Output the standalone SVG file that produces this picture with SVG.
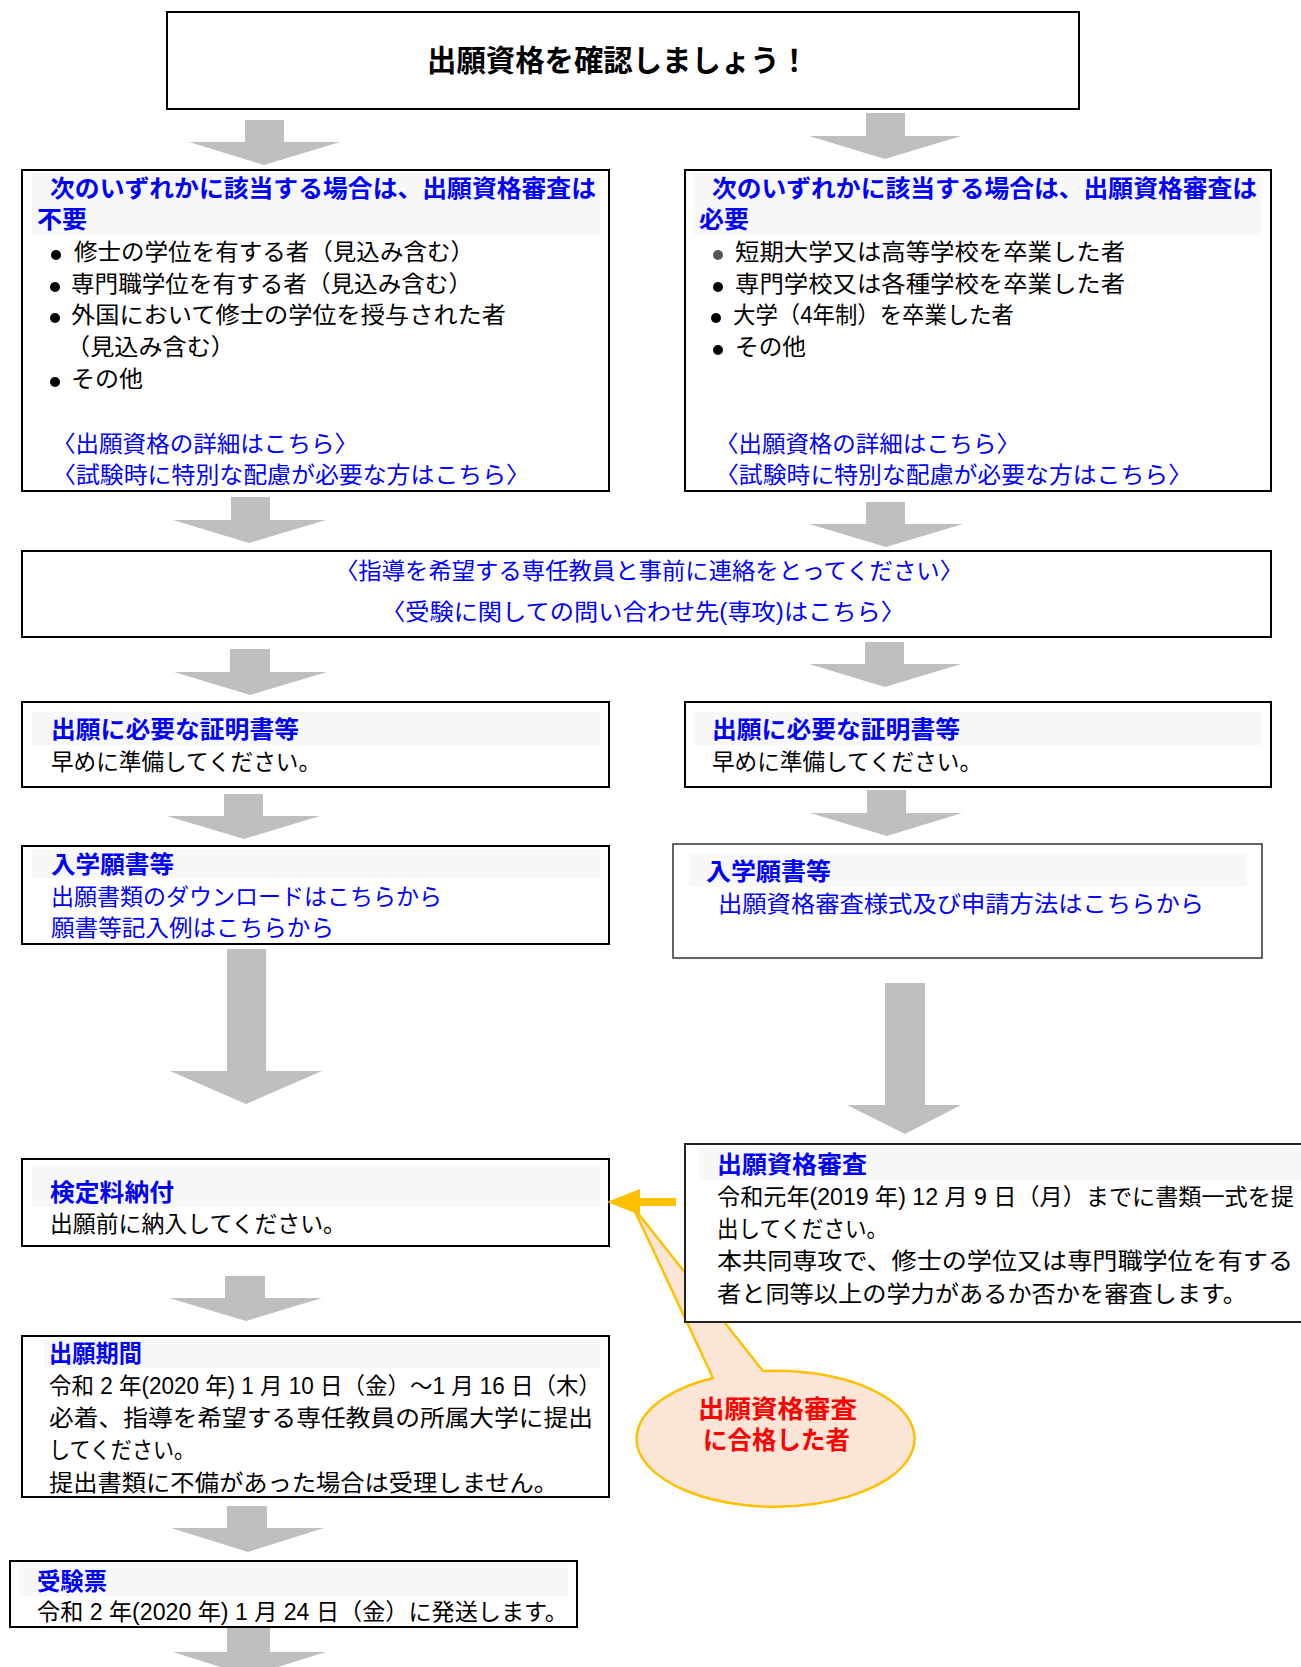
<svg xmlns="http://www.w3.org/2000/svg" width="1301" height="1667" viewBox="0 0 1301 1667">
<style>
.bg{fill:#fff}
.box{fill:#fff;stroke:#000;stroke-width:2}
.box2{fill:#fff;stroke:#333;stroke-width:1.5}
.band{fill:#F8F8F8}
.t{font-family:"Liberation Sans","Noto Sans CJK JP",sans-serif;font-size:23px;fill:#000}
.h{font-weight:bold;fill:#0000FF;font-size:24px}
.lk{fill:#0000FF}
.ar{fill:#BFBFBF}
.bul{fill:#000}
.red{font-weight:bold;fill:#FF0000;font-size:25px}
</style>
<rect class="bg" x="0" y="0" width="1301" height="1667"/>

<g id="connectors">
  <path class="ar" d="M245,120H284V142H340L264,165L189,142H245Z"/>
  <path class="ar" d="M866,113H905V136H961L885,159L809,136H866Z"/>
  <path class="ar" d="M231,497H270V520H326L249,543L173,520H231Z"/>
  <path class="ar" d="M866,502H905V524H963L886,547L809,524H866Z"/>
  <path class="ar" d="M230,649H270V672H327L250,695L174,672H230Z"/>
  <path class="ar" d="M865,642H904V664H961L885,687L809,664H865Z"/>
  <path class="ar" d="M224,794H263V816H320L244,839L167,816H224Z"/>
  <path class="ar" d="M867,790H906V813H962L887,836L810,813H867Z"/>
  <path class="ar" d="M227,949H266V1071H322L246,1104L170,1071H227Z"/>
  <path class="ar" d="M885,983H925V1105H961L905,1134L847,1105H885Z"/>
  <path class="ar" d="M225,1276H265V1298H322L246,1321L169,1298H225Z"/>
  <path class="ar" d="M227,1506H267V1528H324L248,1552L171,1528H227Z"/>
  <path class="ar" d="M227,1628H270V1652H326L249,1676L173,1652H227Z"/>
</g>

<g id="title">
  <rect class="box" x="167" y="12" width="912" height="97"/>
  <text class="t" x="427" y="71" style="font-size:30px;font-weight:bold" textLength="382" lengthAdjust="spacingAndGlyphs">出願資格を確認しましょう！</text>
</g>

<g id="no-review">
  <rect class="box" x="22" y="170" width="587" height="321"/>
  <rect class="band" x="32" y="173" width="568" height="62"/>
  <text class="t h" x="50" y="197" textLength="546" lengthAdjust="spacingAndGlyphs">次のいずれかに該当する場合は、出願資格審査は</text>
  <text class="t h" x="37" y="228" textLength="50" lengthAdjust="spacingAndGlyphs">不要</text>
  <circle class="bul" cx="56" cy="255" r="5"/>
  <text class="t" x="74" y="260" textLength="400" lengthAdjust="spacingAndGlyphs">修士の学位を有する者（見込み含む）</text>
  <circle class="bul" cx="55" cy="287" r="5"/>
  <text class="t" x="71" y="292" textLength="401" lengthAdjust="spacingAndGlyphs">専門職学位を有する者（見込み含む）</text>
  <circle class="bul" cx="55" cy="318" r="5"/>
  <text class="t" x="71" y="323" textLength="435" lengthAdjust="spacingAndGlyphs">外国において修士の学位を授与された者</text>
  <text class="t" x="66" y="355" textLength="169" lengthAdjust="spacingAndGlyphs">（見込み含む）</text>
  <circle class="bul" cx="55" cy="382" r="5"/>
  <text class="t" x="71" y="387" textLength="72" lengthAdjust="spacingAndGlyphs">その他</text>
  <text class="t lk" x="52" y="452" textLength="306" lengthAdjust="spacingAndGlyphs">〈出願資格の詳細はこちら〉</text>
  <text class="t lk" x="52" y="483" textLength="478" lengthAdjust="spacingAndGlyphs">〈試験時に特別な配慮が必要な方はこちら〉</text>
</g>

<g id="review-required">
  <rect class="box" x="685" y="170" width="586" height="321"/>
  <rect class="band" x="694" y="173" width="568" height="62"/>
  <text class="t h" x="712" y="197" textLength="545" lengthAdjust="spacingAndGlyphs">次のいずれかに該当する場合は、出願資格審査は</text>
  <text class="t h" x="699" y="228" textLength="50" lengthAdjust="spacingAndGlyphs">必要</text>
  <circle cx="718" cy="255" r="5" fill="#555"/>
  <text class="t" x="735" y="260" textLength="390" lengthAdjust="spacingAndGlyphs">短期大学又は高等学校を卒業した者</text>
  <circle class="bul" cx="718" cy="287" r="5"/>
  <text class="t" x="735" y="292" textLength="390" lengthAdjust="spacingAndGlyphs">専門学校又は各種学校を卒業した者</text>
  <circle class="bul" cx="716" cy="318" r="5"/>
  <text class="t" x="733" y="323" textLength="281" lengthAdjust="spacingAndGlyphs">大学（4年制）を卒業した者</text>
  <circle class="bul" cx="718" cy="350" r="5"/>
  <text class="t" x="735" y="355" textLength="71" lengthAdjust="spacingAndGlyphs">その他</text>
  <text class="t lk" x="715" y="452" textLength="305" lengthAdjust="spacingAndGlyphs">〈出願資格の詳細はこちら〉</text>
  <text class="t lk" x="715" y="483" textLength="477" lengthAdjust="spacingAndGlyphs">〈試験時に特別な配慮が必要な方はこちら〉</text>
</g>

<g id="contact">
  <rect class="box" x="22" y="551" width="1249" height="86"/>
  <text class="t lk" x="335" y="579" textLength="628" lengthAdjust="spacingAndGlyphs">〈指導を希望する専任教員と事前に連絡をとってください〉</text>
  <text class="t lk" x="381" y="620" textLength="524" lengthAdjust="spacingAndGlyphs">〈受験に関しての問い合わせ先(専攻)はこちら〉</text>
</g>

<g id="certificates-left">
  <rect class="box" x="22" y="702" width="587" height="85"/>
  <rect class="band" x="32" y="712" width="568" height="33"/>
  <text class="t h" x="51" y="738" textLength="248" lengthAdjust="spacingAndGlyphs">出願に必要な証明書等</text>
  <text class="t" x="51" y="770" textLength="270" lengthAdjust="spacingAndGlyphs">早めに準備してください。</text>
</g>

<g id="certificates-right">
  <rect class="box" x="685" y="702" width="586" height="85"/>
  <rect class="band" x="694" y="712" width="568" height="33"/>
  <text class="t h" x="712" y="738" textLength="248" lengthAdjust="spacingAndGlyphs">出願に必要な証明書等</text>
  <text class="t" x="712" y="770" textLength="270" lengthAdjust="spacingAndGlyphs">早めに準備してください。</text>
</g>

<g id="forms-left">
  <rect class="box" x="22" y="846" width="587" height="98"/>
  <rect class="band" x="32" y="849" width="568" height="29"/>
  <text class="t h" x="51" y="873" textLength="123" lengthAdjust="spacingAndGlyphs">入学願書等</text>
  <text class="t lk" x="51" y="905" textLength="391" lengthAdjust="spacingAndGlyphs">出願書類のダウンロードはこちらから</text>
  <text class="t lk" x="51" y="936" textLength="283" lengthAdjust="spacingAndGlyphs">願書等記入例はこちらから</text>
</g>

<g id="forms-right">
  <rect class="box2" x="673" y="844" width="589" height="114"/>
  <rect class="band" x="689" y="854" width="558" height="33"/>
  <text class="t h" x="706" y="880" textLength="125" lengthAdjust="spacingAndGlyphs">入学願書等</text>
  <text class="t lk" x="718" y="912" textLength="486" lengthAdjust="spacingAndGlyphs">出願資格審査様式及び申請方法はこちらから</text>
</g>

<g id="callout">
  <path d="M713,1378 L633,1207 L763,1371 A139,68 0 1,1 713,1378 Z" fill="#FBE5D6" stroke="#FFC000" stroke-width="2.5" stroke-linejoin="round"/>
  <text class="t red" x="698" y="1418" textLength="159" lengthAdjust="spacingAndGlyphs">出願資格審査</text>
  <text class="t red" x="703" y="1449" textLength="147" lengthAdjust="spacingAndGlyphs">に合格した者</text>
</g>

<g id="fee">
  <rect class="box" x="22" y="1159" width="587" height="87"/>
  <rect class="band" x="32" y="1166" width="568" height="41"/>
  <text class="t h" x="50" y="1201" textLength="124" lengthAdjust="spacingAndGlyphs">検定料納付</text>
  <text class="t" x="50" y="1232" textLength="296" lengthAdjust="spacingAndGlyphs">出願前に納入してください。</text>
</g>

<g id="qualification-review">
  <rect class="box" x="685" y="1144" width="630" height="178" style="stroke:#222"/>
  <rect class="band" x="699" y="1148" width="620" height="32"/>
  <text class="t h" x="717" y="1173" textLength="150" lengthAdjust="spacingAndGlyphs">出願資格審査</text>
  <text class="t" x="717" y="1205" textLength="577" lengthAdjust="spacingAndGlyphs">令和元年(2019 年) 12 月 9 日（月）までに書類一式を提</text>
  <text class="t" x="717" y="1237" textLength="171" lengthAdjust="spacingAndGlyphs">出してください。</text>
  <text class="t" x="717" y="1269" textLength="576" lengthAdjust="spacingAndGlyphs">本共同専攻で、修士の学位又は専門職学位を有する</text>
  <text class="t" x="717" y="1302" textLength="530" lengthAdjust="spacingAndGlyphs">者と同等以上の学力があるか否かを審査します。</text>
</g>

<g id="orange-arrow">
  <path d="M676,1198H640V1189L607,1202L640,1215V1206H676Z" fill="#FFC000"/>
</g>

<g id="period">
  <rect class="box" x="22" y="1336" width="587" height="161"/>
  <rect class="band" x="44" y="1339" width="556" height="29"/>
  <text class="t h" x="49" y="1362" textLength="93" lengthAdjust="spacingAndGlyphs">出願期間</text>
  <text class="t" x="49" y="1394" textLength="552" lengthAdjust="spacingAndGlyphs">令和 2 年(2020 年) 1 月 10 日（金）～1 月 16 日（木）</text>
  <text class="t" x="49" y="1426" textLength="544" lengthAdjust="spacingAndGlyphs">必着、指導を希望する専任教員の所属大学に提出</text>
  <text class="t" x="49" y="1458" textLength="146" lengthAdjust="spacingAndGlyphs">してください。</text>
  <text class="t" x="49" y="1491" textLength="509" lengthAdjust="spacingAndGlyphs">提出書類に不備があった場合は受理しません。</text>
</g>

<g id="admission-ticket">
  <rect class="box" x="10" y="1561" width="567" height="66"/>
  <rect class="band" x="19" y="1564" width="549" height="32"/>
  <text class="t h" x="37" y="1590" textLength="70" lengthAdjust="spacingAndGlyphs">受験票</text>
  <text class="t" x="37" y="1620" textLength="531" lengthAdjust="spacingAndGlyphs">令和 2 年(2020 年) 1 月 24 日（金）に発送します。</text>
</g>
</svg>
